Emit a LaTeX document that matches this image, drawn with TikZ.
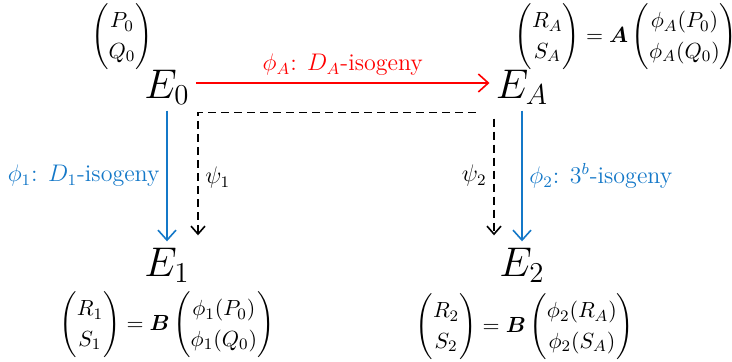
\documentclass[tikz,border=0pt]{standalone}
\usepackage{amsmath,amssymb}
\usepackage{bm}
\usepackage{tikz}
\usetikzlibrary{arrows.meta, positioning, calc}
\usepackage{xcolor}
\definecolor{isored}{RGB}{255,0,0}
\definecolor{isoblue}{RGB}{20,120,200}

\begin{document}
\begin{tikzpicture}[
    x=0.5pt, y=-0.5pt,
    curve/.style={font=\fontsize{22}{26}\selectfont, inner sep=2pt},
    basis/.style={font=\fontsize{11}{13}\selectfont\renewcommand{\arraystretch}{1.18}, inner sep=0pt},
    lbl/.style={font=\large},
    redarr/.style={-{Straight Barb[length=5pt, width=9pt]}, draw=isored, thick},
    bluearr/.style={-{Straight Barb[length=5pt, width=9pt]}, draw=isoblue, thick},
    dasharr/.style={-{Straight Barb[length=4pt, width=7pt]}, dash pattern=on 4pt off 2.5pt, thick},
]
    \useasboundingbox (0,0) rectangle (732,362);

    % curves
    \node[curve] (e0) at (167,87)  {$E_0$};
    \node[curve] (ea) at (522,87)  {$E_A$};
    \node[curve] (e1) at (167,265) {$E_1$};
    \node[curve] (e2) at (522,265) {$E_2$};

    % torsion bases
    \node[basis] (p0) at (122,37)  {$\begin{pmatrix} P_0 \\ Q_0 \end{pmatrix}$};
    \node[basis] (ra) at (626,37)  {$\begin{pmatrix} R_A \\ S_A \end{pmatrix} = \bm{A} \begin{pmatrix} \phi_A(P_0) \\ \phi_A(Q_0) \end{pmatrix}$};
    \node[basis] (r1) at (167,325) {$\begin{pmatrix} R_1 \\ S_1 \end{pmatrix} = \bm{B} \begin{pmatrix} \phi_1(P_0) \\ \phi_1(Q_0) \end{pmatrix}$};
    \node[basis] (r2) at (525,327) {$\begin{pmatrix} R_2 \\ S_2 \end{pmatrix} = \bm{B} \begin{pmatrix} \phi_2(R_A) \\ \phi_2(S_A) \end{pmatrix}$};

    % isogenies
    \draw[redarr] ([yshift=2pt, xshift=1pt]e0.east) -- ([yshift=2pt, xshift=-1pt]ea.west)
        node[midway, above, lbl, text=isored] {$\phi_A$: $D_A$-isogeny};
    \draw[bluearr] ([yshift=-1pt]e0.south) -- ([yshift=1pt]e1.north)
        node[midway, left, lbl, text=isoblue] {$\phi_1$: $D_1$-isogeny};
    \draw[bluearr] ([yshift=-1pt]ea.south) -- ([yshift=1pt]ea.south |- e2.north)
        node[midway, right, lbl, text=isoblue] {$\phi_2$: $3^b$-isogeny};

    % psi maps
    \draw[dasharr, shorten >=4pt] ([xshift=-8pt, yshift=-2pt]ea.south west) -| ([xshift=15.5pt]e1.north)
        node[pos=0.75, right, lbl] {$\psi_1$};
    \draw[dasharr, shorten <=5pt, shorten >=4pt] ([xshift=-14pt]ea.south) -- ([xshift=-14pt]ea.south |- e2.north)
        node[midway, left, lbl] {$\psi_2$};
\end{tikzpicture}
\end{document}
